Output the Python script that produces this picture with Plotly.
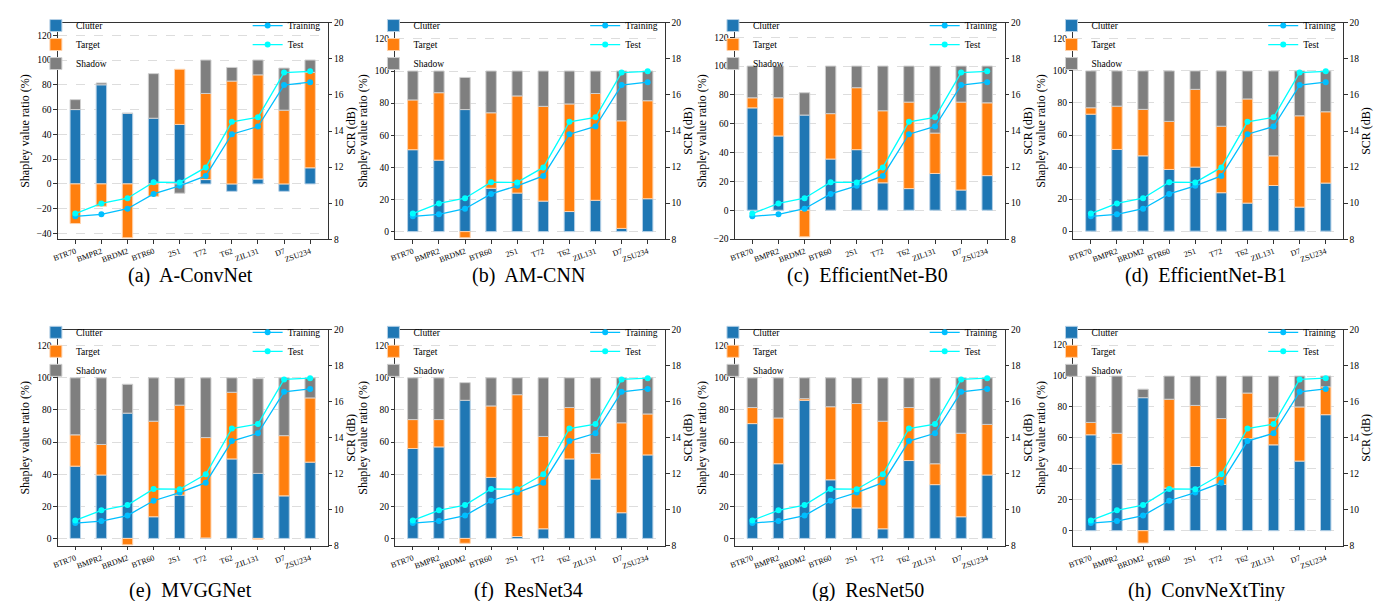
import plotly.graph_objects as go

categories = ["BTR70", "BMPR2", "BRDM2", "BTR60", "2S1", "T72", "T62", "ZIL131", "D7", "ZSU234"]

scr_training = [9.27, 9.38, 9.69, 10.51, 10.96, 11.51, 13.82, 14.25, 16.55, 16.71]
scr_test = [9.42, 9.98, 10.27, 11.16, 11.15, 11.98, 14.51, 14.76, 17.24, 17.31]

panel_titles = ["(a)  A-ConvNet", "(b)  AM-CNN", "(c)  EfficientNet-B0", "(d)  EfficientNet-B1",
                "(e)  MVGGNet", "(f)  ResNet34", "(g)  ResNet50", "(h)  ConvNeXtTiny"]

clutter_a = [60, 80, 57, 53, 48, 3.5, -6, 4, -6, 13]
target_a = [-32, -18, -43.5, -10, 44.5, 69.5, 83, 84, 59.5, 77]
shadow_a = [8, 1.5, 0, 36, -7.5, 27, 11, 12, 34, 10]

clutter_b = [51, 44.5, 76, 27, 24, 19, 12.5, 19.5, 2, 20.5]
target_b = [31, 42, -3.8, 47, 60.5, 59, 67, 66.5, 67, 61]
shadow_b = [18, 13.5, 20, 26, 15.5, 22, 20.5, 14, 31, 18.5]

clutter_c = [71, 51.5, 66, 35.5, 42, 19, 15, 25.5, 14, 24]
target_c = [7, 26.5, -18.5, 31.5, 43, 50, 60, 28, 61, 50.5]
shadow_c = [22, 22, 15.5, 33, 15, 31, 25, 46.5, 25, 25.5]

clutter_d = [73, 51, 47, 38.5, 40, 24, 17.5, 28.5, 15, 30]
target_d = [4, 27, 29, 30, 48.5, 41.5, 65, 18.5, 57, 44.5]
shadow_d = [23, 22, 24, 31.5, 11.5, 34.5, 17.5, 53, 28, 25.5]

clutter_e = [45, 39.5, 78, 13.5, 27, 0.3, 49.5, 40.5, 26.5, 47.5]
target_e = [19.5, 19, -4, 59.5, 56, 62.5, 41.5, -0.5, 37.5, 40]
shadow_e = [35.5, 41.5, 18, 27, 17, 37.2, 9, 59, 36, 12.5]

clutter_f = [56, 57, 86, 38, 1.2, 6, 49.5, 37, 16, 52]
target_f = [18, 17, -3, 44.5, 88.3, 57.5, 32, 16, 56, 25.5]
shadow_f = [26, 26, 11, 17.5, 10.5, 36.5, 18.5, 47, 28, 22.5]

clutter_g = [71.5, 46.5, 86, 36.5, 19, 6, 48.5, 33.5, 13.5, 39.5]
target_g = [10, 28.5, 1, 45.5, 65, 67, 33, 13, 52, 31.5]
shadow_g = [18.5, 25, 13, 18, 16, 27, 18.5, 53.5, 34.5, 29]

clutter_h = [62, 43, 86, 27.5, 41.5, 30, 59.5, 55.5, 45, 75]
target_h = [8, 20, -8, 57.5, 39.5, 42.5, 29.5, 17.5, 35, 18]
shadow_h = [30, 37, 5.5, 15, 19, 27.5, 11, 27, 20, 7]

clutter_all = [clutter_a, clutter_b, clutter_c, clutter_d, clutter_e, clutter_f, clutter_g, clutter_h]
target_all = [target_a, target_b, target_c, target_d, target_e, target_f, target_g, target_h]
shadow_all = [shadow_a, shadow_b, shadow_c, shadow_d, shadow_e, shadow_f, shadow_g, shadow_h]

y_bottoms = [-44.6, -4.7, -20.1, -5, -4.7, -4.7, -4.7, -9.9]

# ---------- layout geometry (pixels) ----------
W, H = 1384, 601
col_left = [44, 383, 724, 1064]
ax_w = 271
row_top = [10, 322]
ax_h = 220
title_y = [267, 587]

FONT = "Liberation Serif"
C_CLUTTER, C_TARGET, C_SHADOW = "#1f77b4", "#ff7f0e", "#7f7f7f"
E_CLUTTER, E_TARGET, E_SHADOW = "#b5d0e6", "#ffd3ad", "#cfcfcf"
C_TRAIN, C_TEST = "#00bfff", "#00ffff"

fig = go.Figure()
layout = dict(
    width=W, height=H, margin=dict(l=0, r=0, t=0, b=0),
    paper_bgcolor="white", plot_bgcolor="white",
    barmode="relative", showlegend=True,
    font=dict(family=FONT, color="#000000", size=10),
)
annotations = []

for i in range(8):
    r, c = divmod(i, 4)
    n = i + 1
    xa = "x" if n == 1 else f"x{n}"
    ya = "y" if n == 1 else f"y{n}"
    ya2 = f"y{n + 8}"
    lg1 = "legend" if n == 1 else f"legend{2 * n - 1}"
    lg2 = f"legend{2 * n}"

    L = col_left[c]
    T = row_top[r]
    x0, x1 = L / W, (L + ax_w) / W
    y0, y1 = 1 - (T + ax_h) / H, 1 - T / H

    for name, vals, col, ecol in [("Clutter", clutter_all[i], C_CLUTTER, E_CLUTTER),
                                  ("Target", target_all[i], C_TARGET, E_TARGET),
                                  ("Shadow", shadow_all[i], C_SHADOW, E_SHADOW)]:
        fig.add_trace(go.Bar(
            x=categories, y=vals, name=name, width=0.4,
            marker=dict(color=col, line=dict(color=ecol, width=1)),
            xaxis=xa, yaxis=ya, legend=lg1,
        ))
    for name, vals, col in [("Training", scr_training, C_TRAIN), ("Test", scr_test, C_TEST)]:
        fig.add_trace(go.Scatter(
            x=categories, y=vals, name=name, mode="lines+markers",
            line=dict(color=col, width=1.3), marker=dict(color=col, size=6),
            xaxis=xa, yaxis=ya2, legend=lg2,
        ))

    axis_common = dict(showline=True, linecolor="#333333", linewidth=1,
                       ticks="outside", ticklen=3.5, tickwidth=0.8, tickcolor="#333333")
    layout[f"xaxis{'' if n == 1 else n}"] = dict(
        domain=[x0, x1], anchor=ya, type="category", categoryorder="array",
        categoryarray=categories, range=[-0.67, 9.67], mirror=True,
        tickangle=-20, tickfont=dict(family=FONT, size=8), showgrid=False, **axis_common)
    layout[f"yaxis{'' if n == 1 else n}"] = dict(
        domain=[y0, y1], anchor=xa, range=[y_bottoms[i], 130], dtick=20, mirror=True,
        showgrid=True, gridcolor="#dddddd", griddash="dash", gridwidth=0.8, zeroline=False,
        tickfont=dict(family=FONT, size=9.5),
        title=dict(text="Shapley value ratio (%)", font=dict(family=FONT, size=12), standoff=4),
        **axis_common)
    layout[f"yaxis{n + 8}"] = dict(
        overlaying=ya, anchor=xa, side="right", range=[8, 20], dtick=2,
        showgrid=False, zeroline=False, tickfont=dict(family=FONT, size=9.5),
        title=dict(text="SCR (dB)", font=dict(family=FONT, size=12), standoff=2),
        **axis_common)

    layout[lg1] = dict(x=(L - 22) / W, y=1 - (T - 12) / H, xanchor="left", yanchor="top",
                       bgcolor="rgba(0,0,0,0)", borderwidth=0, font=dict(family=FONT, size=9.5),
                       tracegroupgap=0, itemwidth=30)
    layout[lg2] = dict(x=(L + ax_w - 2) / W, y=1 - (T - 12) / H, xanchor="right", yanchor="top",
                       bgcolor="rgba(0,0,0,0)", borderwidth=0, font=dict(family=FONT, size=9.5),
                       tracegroupgap=0, itemwidth=30)

    annotations.append(dict(text=panel_titles[i], xref="paper", yref="paper",
                            x=(L + ax_w / 2 - 2) / W, y=1 - title_y[r] / H,
                            xanchor="center", yanchor="middle", showarrow=False,
                            font=dict(family=FONT, size=20, color="#000000")))

layout["annotations"] = annotations
fig.update_layout(**layout)
fig.write_html("out.html")
